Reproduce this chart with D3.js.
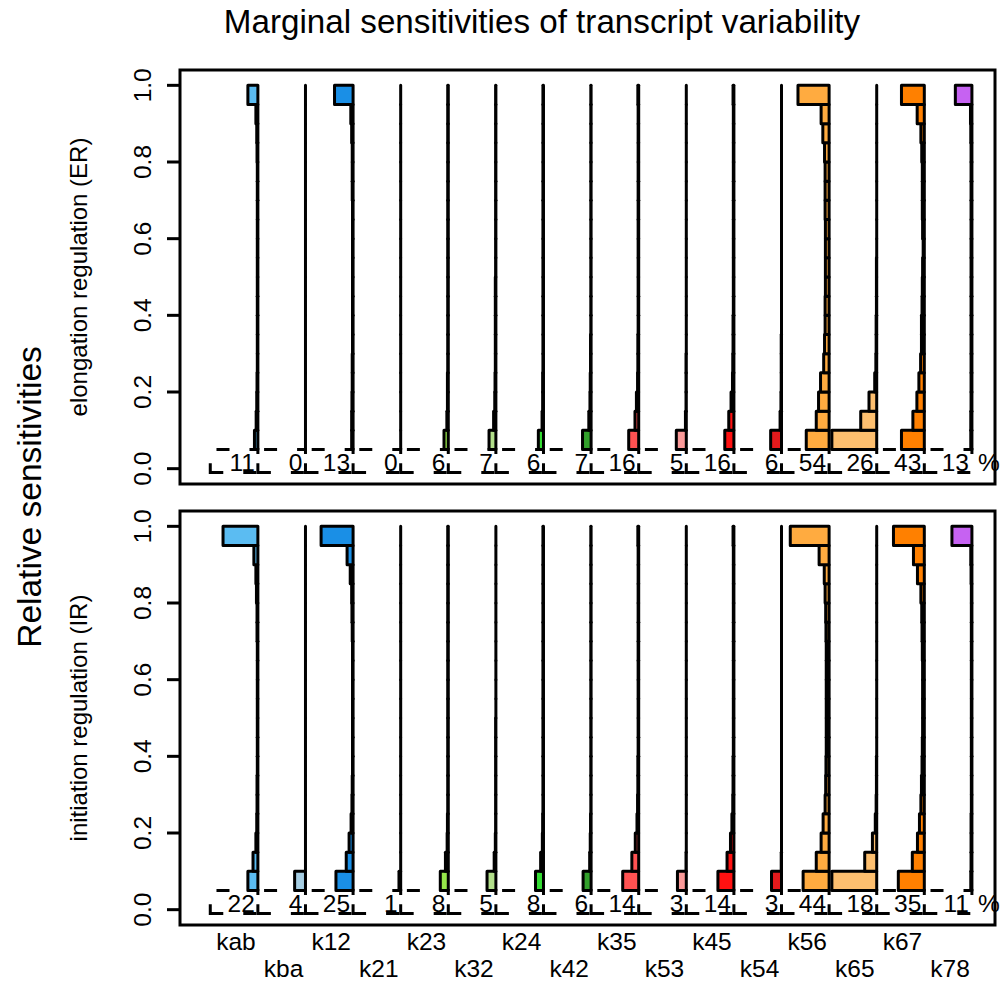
<!DOCTYPE html>
<html>
<head>
<meta charset="utf-8">
<script src="https://cdn.jsdelivr.net/npm/d3@7"></script>
<style>
  body { margin: 0; background: #fff; }
  text { font-family: "Liberation Sans", Arial, Helvetica, sans-serif; fill: #000; }
</style>
</head>
<body>
<svg id="chart" width="1007" height="987"></svg>
<script>
// rate constants, in plotting order
const params = ['kab', 'kba', 'k12', 'k21', 'k23', 'k32', 'k24', 'k42',
  'k35', 'k53', 'k45', 'k54', 'k56', 'k65', 'k67', 'k78']
const paramColors = ['#5bbcf2', '#a6cee3', '#1a8fe6', '#1f78b4', '#96e64a', '#b2df8a', '#33dd33', '#33a02c',
  '#ff5252', '#fb9a99', '#ff1111', '#e31a1c', '#ffab40', '#fdbf6f', '#ff8000', '#c662f2']

// lower edge of each histogram bin drawn as a bar (the 0 - 0.05 bin is the dashed box)
const binStarts = [0.05, 0.10, 0.15, 0.20, 0.25, 0.30, 0.35, 0.40, 0.45, 0.50,
  0.55, 0.60, 0.65, 0.70, 0.75, 0.80, 0.85, 0.90, 0.95]
const yTicks = [0, 0.2, 0.4, 0.6, 0.8, 1]

// percent of samples above 0.05
const erPercent = [11, 0, 13, 0, 6, 7, 6, 7, 16, 5, 16, 6, 54, 26, 43, 13]
const irPercent = [22, 4, 25, 1, 8, 5, 8, 6, 14, 3, 14, 3, 44, 18, 35, 11]

// percent of samples per bin (bins 0.05 ... 0.95), one row per rate constant
const erBins = [
  [1.2, 0.6, 0.4, 0.3, 0.2, 0.2, 0.2, 0.2, 0.2, 0.2, 0.2, 0.2, 0.2, 0.2, 0.2, 0.3, 0.4, 0.7, 3.5], // kab
  [0, 0, 0, 0, 0, 0, 0, 0, 0, 0, 0, 0, 0, 0, 0, 0, 0, 0, 0], // kba
  [0.5, 0.5, 0.4, 0.3, 0.3, 0.2, 0.2, 0.2, 0.2, 0.2, 0.2, 0.2, 0.2, 0.3, 0.3, 0.3, 0.5, 0.8, 6.5], // k12
  [0, 0, 0, 0, 0, 0, 0, 0, 0, 0, 0, 0, 0, 0, 0, 0, 0, 0, 0], // k21
  [1.5, 0.5, 0.3, 0.3, 0.2, 0.2, 0.2, 0.2, 0.2, 0.2, 0.2, 0.2, 0.2, 0.2, 0.2, 0.2, 0.2, 0.2, 0.2], // k23
  [2.4, 0.8, 0.4, 0.3, 0.2, 0.2, 0.2, 0.2, 0.2, 0.1, 0.1, 0.1, 0.1, 0.1, 0.1, 0.1, 0.1, 0.1, 0.1], // k32
  [1.8, 0.5, 0.3, 0.3, 0.2, 0.2, 0.2, 0.2, 0.2, 0.2, 0.2, 0.2, 0.2, 0.2, 0.2, 0.2, 0.2, 0.2, 0.2], // k24
  [3.0, 0.8, 0.4, 0.3, 0.2, 0.2, 0.1, 0.1, 0.1, 0.1, 0.1, 0.1, 0.1, 0.1, 0.1, 0.1, 0.1, 0.1, 0.1], // k42
  [3.5, 1.3, 0.8, 0.4, 0.3, 0.3, 0.2, 0.2, 0.2, 0.2, 0.2, 0.2, 0.2, 0.2, 0.2, 0.2, 0.2, 0.2, 0.3], // k35
  [3.5, 0.3, 0.1, 0.1, 0.1, 0, 0, 0, 0, 0, 0, 0, 0, 0, 0, 0, 0, 0, 0], // k53
  [3.2, 1.8, 1.0, 0.5, 0.4, 0.3, 0.3, 0.2, 0.2, 0.2, 0.2, 0.2, 0.2, 0.2, 0.2, 0.2, 0.2, 0.2, 0.3], // k45
  [3.8, 0.5, 0.2, 0.1, 0.1, 0.1, 0, 0, 0, 0, 0, 0, 0, 0, 0, 0, 0, 0, 0], // k54
  [8.0, 4.5, 3.7, 3.0, 1.9, 1.6, 1.4, 1.4, 1.3, 1.3, 1.3, 1.3, 1.4, 1.4, 1.4, 1.6, 2.2, 2.8, 10.9], // k56
  [15.7, 5.6, 2.7, 0.7, 0.3, 0.2, 0.2, 0.1, 0.1, 0.1, 0, 0, 0, 0, 0, 0, 0, 0, 0], // k65
  [8.0, 4.0, 2.6, 1.9, 1.3, 1.0, 1.0, 0.8, 0.7, 0.6, 0.4, 0.6, 0.7, 0.7, 0.7, 0.9, 1.2, 2.5, 8.0], // k67
  [0.4, 0.4, 0.3, 0.3, 0.3, 0.3, 0.3, 0.3, 0.3, 0.3, 0.3, 0.3, 0.3, 0.3, 0.3, 0.3, 0.4, 0.5, 5.8] // k78
]
const irBins = [
  [3.5, 1.7, 0.7, 0.4, 0.3, 0.3, 0.2, 0.2, 0.2, 0.2, 0.2, 0.2, 0.2, 0.3, 0.3, 0.5, 0.7, 1.4, 12.2], // kab
  [3.8, 0, 0, 0, 0, 0, 0, 0, 0, 0, 0, 0, 0, 0, 0, 0, 0, 0, 0], // kba
  [6.0, 2.4, 1.4, 0.7, 0.4, 0.3, 0.2, 0.2, 0.2, 0.2, 0.2, 0.2, 0.2, 0.3, 0.4, 0.5, 1.0, 2.1, 11.2], // k12
  [0.6, 0, 0, 0, 0, 0, 0, 0, 0, 0, 0, 0, 0, 0, 0, 0, 0, 0, 0], // k21
  [2.8, 1.0, 0.4, 0.3, 0.2, 0.2, 0.2, 0.2, 0.2, 0.2, 0.2, 0.2, 0.2, 0.2, 0.2, 0.2, 0.2, 0.2, 0.2], // k23
  [3.1, 0.6, 0.2, 0.1, 0.1, 0.1, 0.1, 0.1, 0.1, 0, 0, 0, 0, 0, 0, 0, 0, 0, 0], // k32
  [2.8, 1.0, 0.4, 0.3, 0.2, 0.2, 0.2, 0.2, 0.2, 0.2, 0.2, 0.2, 0.2, 0.2, 0.2, 0.2, 0.2, 0.2, 0.2], // k24
  [2.8, 0.5, 0.3, 0.2, 0.1, 0.1, 0.1, 0.1, 0.1, 0.1, 0.1, 0.1, 0.1, 0.1, 0.1, 0.1, 0.1, 0.1, 0.1], // k42
  [5.6, 2.4, 1.2, 0.6, 0.4, 0.3, 0.3, 0.2, 0.2, 0.2, 0.2, 0.2, 0.2, 0.2, 0.2, 0.2, 0.2, 0.2, 0.3], // k35
  [3.1, 0.1, 0, 0, 0, 0, 0, 0, 0, 0, 0, 0, 0, 0, 0, 0, 0, 0, 0], // k53
  [5.6, 2.4, 1.2, 0.7, 0.4, 0.3, 0.3, 0.2, 0.2, 0.2, 0.2, 0.2, 0.2, 0.2, 0.2, 0.2, 0.2, 0.2, 0.3], // k45
  [3.5, 0.1, 0, 0, 0, 0, 0, 0, 0, 0, 0, 0, 0, 0, 0, 0, 0, 0, 0], // k54
  [9.1, 4.5, 2.8, 2.1, 1.4, 1.2, 1.1, 1.0, 1.0, 1.0, 1.0, 1.0, 1.0, 1.1, 1.2, 1.4, 1.7, 3.5, 13.6], // k56
  [15.7, 4.2, 1.5, 0.5, 0.2, 0.1, 0.1, 0, 0, 0, 0, 0, 0, 0, 0, 0, 0, 0, 0], // k65
  [9.1, 4.2, 2.4, 1.7, 1.2, 1.0, 0.8, 0.7, 0.6, 0.6, 0.6, 0.6, 0.7, 0.8, 0.9, 1.2, 2.4, 3.8, 10.8], // k67
  [0.4, 0.3, 0.3, 0.3, 0.2, 0.2, 0.2, 0.2, 0.2, 0.2, 0.2, 0.2, 0.2, 0.2, 0.2, 0.2, 0.3, 0.4, 7.0] // k78
]

const panels = [
  { label: 'elongation regulation (ER)', bins: erBins, percent: erPercent, top: 70, bottom: 484 },
  { label: 'initiation regulation (IR)', bins: irBins, percent: irPercent, top: 511, bottom: 925 }
]

const svg = d3.select('#chart')
const left = 180; const right = 995
const binWidth = 0.05
const baseOffset = 0.46 // histogram baseline sits right of the label position
const lwd = 3

// label i sits at x(i), histogram i grows leftwards from x(i + baseOffset)
const x = d3.scaleLinear().domain([-1.176, 15.945]).range([left, right])
// percent of samples -> width in label units
const w = d3.scaleLinear().domain([0, 100]).range([0, 6.0])

svg.append('text')
  .attr('x', 542).attr('y', 33)
  .attr('text-anchor', 'middle')
  .style('font-size', '33.2px')
  .text('Marginal sensitivities of transcript variability')

svg.append('text')
  .attr('transform', 'translate(41,497) rotate(-90)')
  .attr('text-anchor', 'middle')
  .style('font-size', '33.5px')
  .text('Relative sensitivities')

panels.forEach(panel => {
  const y = d3.scaleLinear().domain([-0.04, 1.04]).range([panel.bottom, panel.top])
  const g = svg.append('g')

  // y axis
  const axis = g.append('g')
  axis.selectAll('line')
    .data(yTicks)
    .enter().append('line')
    .attr('x1', left - 13).attr('x2', left)
    .attr('y1', d => y(d)).attr('y2', d => y(d))
    .attr('stroke', '#000').attr('stroke-width', lwd)
  axis.selectAll('text')
    .data(yTicks)
    .enter().append('text')
    .attr('transform', d => 'translate(' + 151 + ',' + y(d) + ') rotate(-90)')
    .attr('text-anchor', 'middle')
    .style('font-size', '24.5px')
    .text(d => d3.format('.1f')(d))

  g.append('text')
    .attr('transform', 'translate(' + 87 + ',' + y(0.5) + ') rotate(-90)')
    .attr('text-anchor', 'middle')
    .style('font-size', '24px')
    .text(panel.label)

  // dashed boxes for the 0 - 0.05 bin (truncated to one slot)
  g.selectAll('path.low')
    .data(params)
    .enter().append('path')
    .attr('class', 'low')
    .attr('d', (d, i) => {
      const p = d3.path()
      const xr = x(i + baseOffset); const xl = x(i - 1 + baseOffset)
      p.moveTo(xl, y(-0.01))
      p.lineTo(xr, y(-0.01))
      p.lineTo(xr, y(0.05))
      p.lineTo(xl, y(0.05))
      p.closePath()
      return p.toString()
    })
    .attr('fill', 'none')
    .attr('stroke', '#000')
    .attr('stroke-width', lwd)
    .attr('stroke-dasharray', '13,20')

  // histogram bars
  params.forEach((name, i) => {
    const base = i + baseOffset
    g.selectAll('path.bar-' + name)
      .data(panel.bins[i].map((v, k) => ({ v: v, lo: binStarts[k] })))
      .enter().append('path')
      .attr('class', 'bar-' + name)
      .attr('d', d => {
        const p = d3.path()
        p.rect(x(base - w(d.v)), y(d.lo + binWidth), x(base) - x(base - w(d.v)), y(d.lo) - y(d.lo + binWidth))
        return p.toString()
      })
      .attr('fill', paramColors[i])
      .attr('stroke', '#000')
      .attr('stroke-width', lwd)
      .attr('stroke-linejoin', 'round')
  })

  // percent labels
  g.selectAll('text.pct')
    .data(panel.percent)
    .enter().append('text')
    .attr('class', 'pct')
    .attr('x', (d, i) => x(i + baseOffset) - 3)
    .attr('y', y(0.016))
    .attr('dy', '0.35em')
    .attr('text-anchor', 'end')
    .style('font-size', '24.5px')
    .text(d => d)
  g.append('text')
    .attr('x', x(params.length - 1 + baseOffset) + 6)
    .attr('y', y(0.016))
    .attr('dy', '0.35em')
    .style('font-size', '24.5px')
    .text('%')

  // frame
  g.append('rect')
    .attr('x', left).attr('y', panel.top)
    .attr('width', right - left).attr('height', panel.bottom - panel.top)
    .attr('fill', 'none').attr('stroke', '#000').attr('stroke-width', lwd)
})

// parameter names, alternating on two lines
svg.append('g').selectAll('text')
  .data(params)
  .enter().append('text')
  .attr('x', (d, i) => x(i))
  .attr('y', (d, i) => i % 2 === 0 ? 950 : 977)
  .attr('text-anchor', 'middle')
  .style('font-size', '24.5px')
  .text(d => d)
</script>
</body>
</html>
